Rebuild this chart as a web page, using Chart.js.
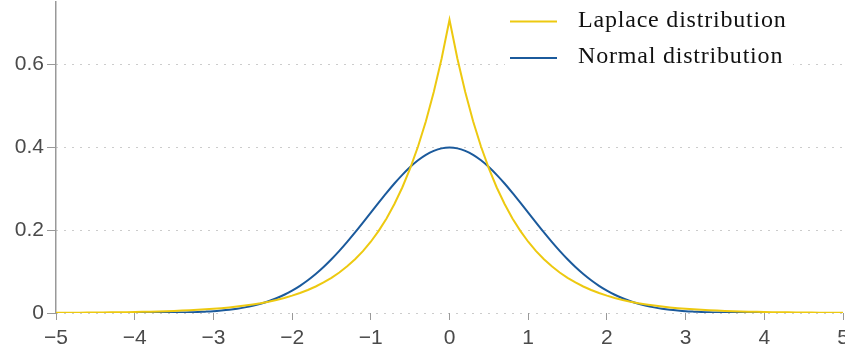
<!DOCTYPE html>
<html>
<head>
<meta charset="utf-8">
<script src="https://cdn.jsdelivr.net/npm/chart.js@4.4.1/dist/chart.umd.min.js"></script>
<style>
  html,body{margin:0;padding:0;background:#fff;overflow:hidden;}
  #wrap{position:relative;width:852px;height:355px;}
</style>
</head>
<body>
<div id="wrap"><canvas id="c"></canvas></div>
<script>
/* ---- data ---- */
const xs = [-5,-4.9,-4.8,-4.7,-4.6,-4.5,-4.4,-4.3,-4.2,-4.1,-4,-3.9,-3.8,-3.7,-3.6,-3.5,-3.4,-3.3,-3.2,-3.1,-3,-2.9,-2.8,-2.7,-2.6,-2.5,-2.4,-2.3,-2.2,-2.1,-2,-1.9,-1.8,-1.7,-1.6,-1.5,-1.4,-1.3,-1.2,-1.1,-1,-0.9,-0.8,-0.7,-0.6,-0.5,-0.4,-0.3,-0.2,-0.1,0,0.1,0.2,0.3,0.4,0.5,0.6,0.7,0.8,0.9,1,1.1,1.2,1.3,1.4,1.5,1.6,1.7,1.8,1.9,2,2.1,2.2,2.3,2.4,2.5,2.6,2.7,2.8,2.9,3,3.1,3.2,3.3,3.4,3.5,3.6,3.7,3.8,3.9,4,4.1,4.2,4.3,4.4,4.5,4.6,4.7,4.8,4.9,5];
const laplace = [0.0006,0.0007,0.0008,0.0009,0.0011,0.0012,0.0014,0.0016,0.0019,0.0021,0.0025,0.0028,0.0033,0.0038,0.0043,0.0050,0.0058,0.0066,0.0077,0.0088,0.0102,0.0117,0.0135,0.0155,0.0179,0.0206,0.0237,0.0273,0.0315,0.0363,0.0418,0.0481,0.0555,0.0639,0.0736,0.0848,0.0976,0.1125,0.1296,0.1492,0.1719,0.1980,0.2281,0.2628,0.3027,0.3487,0.4016,0.4626,0.5329,0.6139,0.7071,0.6139,0.5329,0.4626,0.4016,0.3487,0.3027,0.2628,0.2281,0.1980,0.1719,0.1492,0.1296,0.1125,0.0976,0.0848,0.0736,0.0639,0.0555,0.0481,0.0418,0.0363,0.0315,0.0273,0.0237,0.0206,0.0179,0.0155,0.0135,0.0117,0.0102,0.0088,0.0077,0.0066,0.0058,0.0050,0.0043,0.0038,0.0033,0.0028,0.0025,0.0021,0.0019,0.0016,0.0014,0.0012,0.0011,0.0009,0.0008,0.0007,0.0006];
const normal = [0,0,0,0,0,0,0,0,0.0001,0.0001,0.0001,0.0002,0.0003,0.0004,0.0006,0.0009,0.0012,0.0017,0.0024,0.0033,0.0044,0.0060,0.0079,0.0104,0.0136,0.0175,0.0224,0.0283,0.0355,0.0440,0.0540,0.0656,0.0790,0.0940,0.1109,0.1295,0.1497,0.1714,0.1942,0.2179,0.2420,0.2661,0.2897,0.3123,0.3332,0.3521,0.3683,0.3814,0.3910,0.3970,0.3989,0.3970,0.3910,0.3814,0.3683,0.3521,0.3332,0.3123,0.2897,0.2661,0.2420,0.2179,0.1942,0.1714,0.1497,0.1295,0.1109,0.0940,0.0790,0.0656,0.0540,0.0440,0.0355,0.0283,0.0224,0.0175,0.0136,0.0104,0.0079,0.0060,0.0044,0.0033,0.0024,0.0017,0.0012,0.0009,0.0006,0.0004,0.0003,0.0002,0.0001,0.0001,0.0001,0,0,0,0,0,0,0,0];
const seriesNames = ['Laplace distribution','Normal distribution'];
const xTicks = [-5,-4,-3,-2,-1,0,1,2,3,4,5];
const yTicks = [0,0.2,0.4,0.6];

const YELLOW = '#edc910', BLUE = '#1b5a9c', GREY = '#999', TXT = '#4a4a4a';
const minus = v => String(v).replace('-', '\u2212');
const sans = '"Liberation Sans", Arial, sans-serif';

// legend drawn on a white box in the top right, like the original
const boxLegend = {
  id:'boxLegend',
  afterDatasetsDraw(chart){
    const ctx = chart.ctx;
    ctx.save();
    ctx.fillStyle = '#fff';
    ctx.fillRect(505, 0, 288, 78);
    ctx.font = '24px "Liberation Serif", serif';
    ctx.letterSpacing = '0.8px';
    ctx.textBaseline = 'middle';
    chart.data.datasets.forEach((ds,i)=>{
      const y = 21.5 + i*36.5;
      ctx.strokeStyle = ds.borderColor; ctx.lineWidth = 2;
      ctx.beginPath(); ctx.moveTo(510, y); ctx.lineTo(557, y); ctx.stroke();
      ctx.fillStyle = '#111';
      ctx.fillText(ds.label, 578, y - 1);
    });
    ctx.restore();
  }
};

new Chart(document.getElementById('c'), {
  type:'line',
  data:{ datasets:[
    {label:seriesNames[0], data:xs.map((x,i)=>({x, y:laplace[i]})), borderColor:YELLOW, borderWidth:2, pointRadius:0, tension:0},
    {label:seriesNames[1], data:xs.map((x,i)=>({x, y:normal[i]})), borderColor:BLUE, borderWidth:2, pointRadius:0, tension:0.3}
  ]},
  options:{
    responsive:true, maintainAspectRatio:false, animation:false,
    layout:{padding:{top:2, right:9, left:0, bottom:0}},
    plugins:{legend:{display:false}, tooltip:{enabled:false}},
    scales:{
      x:{
        type:'linear', min:-5, max:5,
        afterBuildTicks: s => { s.ticks = xTicks.map(v=>({value:v})); },
        afterFit: s => { s.height = 42; s.paddingLeft = 0; s.paddingRight = 0; },
        border:{display:false},
        grid:{drawOnChartArea:false, drawTicks:true, tickLength:7, tickColor:GREY},
        ticks:{color:TXT, font:{family:sans, size:21}, padding:6, maxRotation:0, callback:v=>minus(v)}
      },
      y:{
        min:0, max:0.75,
        afterBuildTicks: s => { s.ticks = yTicks.map(v=>({value:v})); },
        afterFit: s => { s.width = 56; s.paddingTop = 0; s.paddingBottom = 0; },
        border:{display:true, color:GREY, width:1.5, dash:[1,7]},
        grid:{color:'#999', lineWidth:1, tickLength:9, tickColor:GREY, tickBorderDash:[]},
        ticks:{color:TXT, font:{family:sans, size:21}, padding:3}
      }
    }
  },
  plugins:[boxLegend]
});
</script>
</body>
</html>
